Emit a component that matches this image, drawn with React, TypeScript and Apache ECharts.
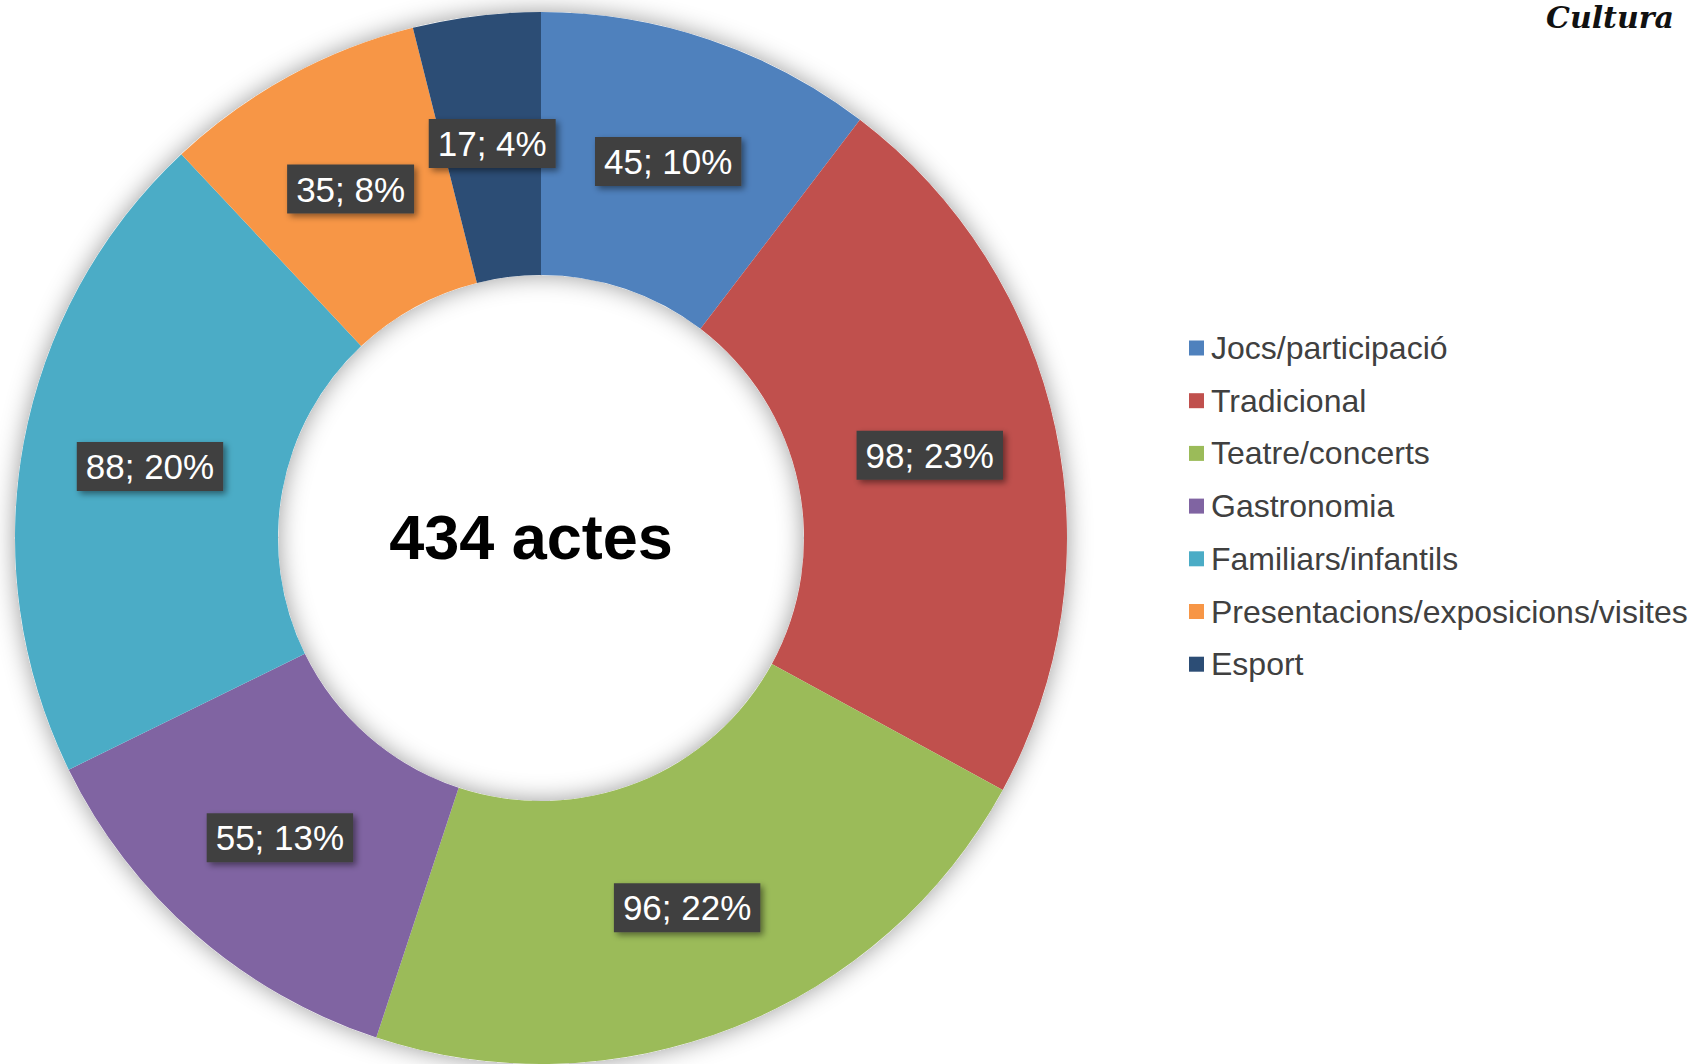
import React, { useEffect, useRef } from "react";
import * as echarts from "echarts";

const categories = [
  "Jocs/participació",
  "Tradicional",
  "Teatre/concerts",
  "Gastronomia",
  "Familiars/infantils",
  "Presentacions/exposicions/visites",
  "Esport",
];
const values = [45, 98, 96, 55, 88, 35, 17];
const colors = ["#4F81BD", "#C0504D", "#9BBB59", "#8064A2", "#4BACC6", "#F79646", "#2C4D75"];
const centerText = "434 actes";
const logoText = "Cultura";

export default function App() {
  const ref = useRef<HTMLDivElement>(null);
  useEffect(() => {
    if (!ref.current) return;
    const chart = echarts.init(ref.current, undefined, { renderer: "svg" });
    const total = values.reduce((a, b) => a + b, 0);
    const font = "'Liberation Sans', Arial, sans-serif";
    chart.setOption({
      animation: false,
      backgroundColor: "#ffffff",
      legend: {
        orient: "vertical",
        left: 1184,
        top: 327,
        itemWidth: 15,
        itemHeight: 15,
        itemGap: 20.7,
        icon: "rect",
        data: categories,
        textStyle: {
          fontSize: 32,
          lineHeight: 32,
          color: "#404040",
          fontFamily: font,
          padding: [0, 0, 0, 2],
        },
      },
      graphic: [
        {
          type: "text",
          style: {
            text: centerText,
            x: 531,
            y: 537,
            align: "center",
            verticalAlign: "middle",
            textAlign: "center",
            textVerticalAlign: "middle",
            fontSize: 63,
            fontWeight: "bold",
            fontFamily: font,
            fill: "#000000",
          },
        },
        {
          type: "text",
          style: {
            text: logoText,
            x: 1546,
            y: 2,
            align: "left",
            verticalAlign: "top",
            fontSize: 30,
            fontStyle: "italic",
            fontWeight: "bold",
            fontFamily: "'DejaVu Serif', serif",
            fill: "#111111",
          },
        },
      ],
      series: [
        {
          type: "pie",
          name: "shadow",
          silent: true,
          radius: [263, 526],
          center: [541, 538],
          label: { show: false },
          labelLine: { show: false },
          itemStyle: {
            color: "#ffffff",
            shadowBlur: 24,
            shadowColor: "rgba(0,0,0,0.4)",
          },
          data: [{ name: "__ring", value: 1 }],
        },
        {
          type: "pie",
          name: "Actes",
          radius: [263, 526],
          center: [541, 538],
          startAngle: 90,
          clockwise: true,
          avoidLabelOverlap: false,
          itemStyle: { borderWidth: 0 },
          label: {
            show: true,
            position: "inside",
            formatter: (p: any) => `${p.value}; ${Math.round((p.value / total) * 100)}%`,
            color: "#ffffff",
            fontSize: 35,
            lineHeight: 35,
            fontFamily: font,
            backgroundColor: "#404040",
            padding: [7, 9, 7, 9],
            shadowColor: "rgba(0,0,0,0.45)",
            shadowBlur: 6,
            shadowOffsetX: 3,
            shadowOffsetY: 3,
          },
          labelLine: { show: false },
          data: categories.map((c, i) => ({
            name: c,
            value: values[i],
            itemStyle: { color: colors[i] },
          })),
        },
      ],
    });
    return () => chart.dispose();
  }, []);
  return (
    <div
      ref={ref}
      style={{ position: "absolute", left: 0, top: 0, width: 1692, height: 1064 }}
    />
  );
}
